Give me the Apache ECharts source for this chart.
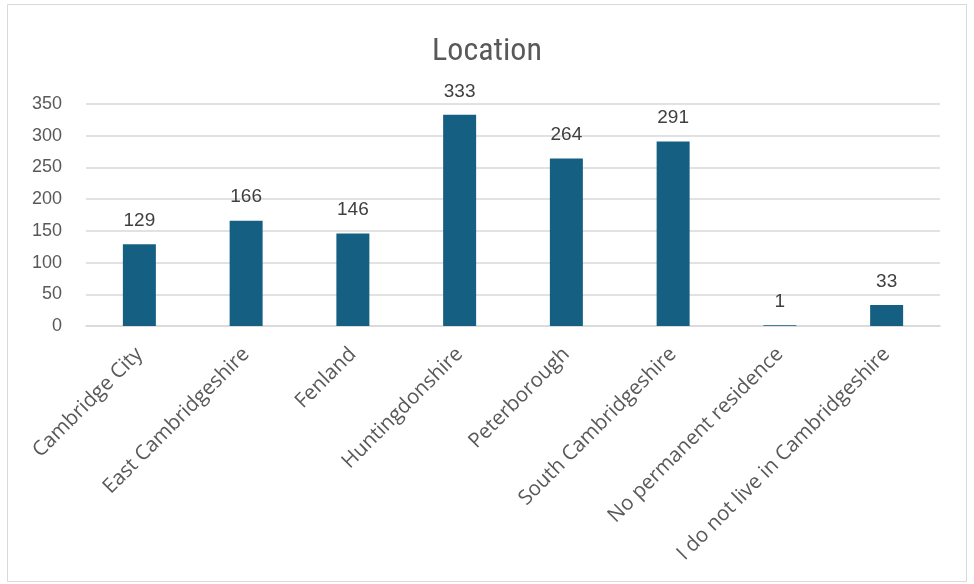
<!DOCTYPE html>
<html>
<head>
<meta charset="utf-8">
<script src="https://cdn.jsdelivr.net/npm/echarts@6/dist/echarts.min.js"></script>
<style>html,body{margin:0;padding:0;background:#fff}#c{width:974px;height:584px}</style>
</head>
<body>
<div id="c"></div>
<script>
const categories = ["Cambridge City","East Cambridgeshire","Fenland","Huntingdonshire","Peterborough","South Cambridgeshire","No permanent residence","I do not live in Cambridgeshire"];
const values = [129,166,146,333,264,291,1,33];
const yTicks = {min:0, max:350, interval:50};

const chart = echarts.init(document.getElementById('c'));
chart.setOption({
  animation:false,
  backgroundColor:'#fff',
  graphic:[{type:'rect',shape:{x:7.5,y:4.5,width:959,height:577},style:{fill:'none',stroke:'#d9d9d9',lineWidth:1}}],
  title:{text:'Location',left:'center',top:31,textStyle:{fontFamily:'Liberation Sans Narrow, Roboto Condensed, Roboto',fontWeight:'normal',fontSize:32,color:'#595959'}},
  grid:{left:86,right:34,top:104,bottom:258},
  xAxis:{type:'category',data:categories,
    axisLine:{lineStyle:{color:'#d9d9d9',width:1.5}},axisTick:{show:false},
    axisLabel:{rotate:45,interval:0,fontSize:20.5,color:'#595959',fontFamily:'Open Sans',margin:25}},
  yAxis:{type:'value',min:yTicks.min,max:yTicks.max,interval:yTicks.interval,
    axisLine:{show:false},axisTick:{show:false},
    splitLine:{lineStyle:{color:'#d9d9d9',width:1.5}},
    axisLabel:{fontSize:18,color:'#595959',fontFamily:'Liberation Sans',margin:24}},
  series:[{type:'bar',data:values,barWidth:33,itemStyle:{color:'#156082'},
    label:{show:true,position:'top',distance:14,fontSize:19,color:'#404040',fontFamily:'Liberation Sans'}}]
});
</script>
</body>
</html>
